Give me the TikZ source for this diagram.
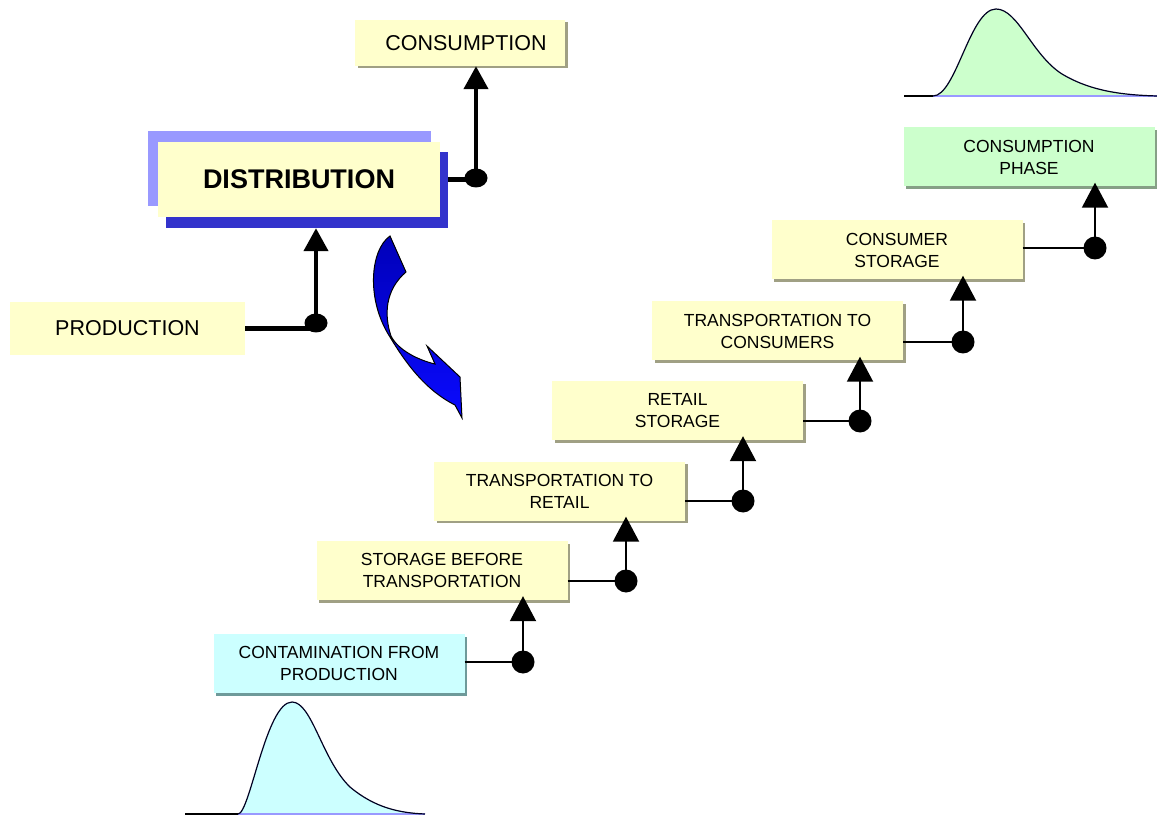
\documentclass[tikz,border=0pt]{standalone}
\usepackage{fontspec}
\setmainfont{Liberation Sans}
\usetikzlibrary{arrows.meta,shadows}

\definecolor{boxyellow}{HTML}{FFFFCC}
\definecolor{boxcyan}{HTML}{CCFFFF}
\definecolor{boxgreen}{HTML}{CCFFCC}
\definecolor{shadeyellow}{HTML}{A0A084}
\definecolor{shadecyan}{HTML}{6E9A9A}
\definecolor{shadegreen}{HTML}{86A086}
\definecolor{distlight}{HTML}{9999FF}
\definecolor{distdark}{HTML}{3333CC}
\definecolor{baseblue}{HTML}{9999FF}
\definecolor{curveink}{HTML}{000022}

\tikzset{
  boxshadow/.style={general shadow={fill=#1, shadow xshift=2.5pt, shadow yshift=-2.5pt}},
  stepbox/.style={fill=boxyellow, inner sep=0pt, align=center,
    minimum width=251pt, minimum height=59pt, text depth=0pt,
    font=\fontsize{17.5}{22}\selectfont, boxshadow=shadeyellow},
  bigbox/.style={fill=boxyellow, inner sep=0pt, font=\fontsize{21.5}{26}\selectfont},
  stepline/.style={line width=2pt},
  steparrow/.style={line width=2pt, -{Triangle[length=25pt,width=26pt]}, shorten >=-4pt},
  stepdot/.style={circle, fill=black, inner sep=0pt, minimum size=23pt},
  mainline/.style={line width=4.3pt},
  mainarrow/.style={line width=4.3pt, -{Triangle[length=23pt,width=24pt]}},
  curveline/.style={line width=1.2pt, draw=curveink},
}

\begin{document}
\begin{tikzpicture}[x=1pt,y=-1pt]
\useasboundingbox (0,0) rectangle (1157,818);

% ---------- distribution curves ----------
\fill[boxcyan] (238,814) .. controls (250,814) and (266,702) .. (292,702)
  .. controls (312,702) and (322,760) .. (350,787)
  .. controls (375,808) and (400,813) .. (425,814) -- cycle;
\draw[line width=1.2pt] (185,814) -- (238,814);
\draw[baseblue, line width=1.2pt] (238,814) -- (425,814);
\draw[curveline] (238,814) .. controls (250,814) and (266,702) .. (292,702)
  .. controls (312,702) and (322,760) .. (350,787)
  .. controls (375,808) and (400,813) .. (425,814);

\fill[boxgreen] (933,96) .. controls (956,96) and (970,9) .. (996,9)
  .. controls (1018,9) and (1032,55) .. (1062,74)
  .. controls (1092,92) and (1125,95) .. (1157,96) -- cycle;
\draw[line width=1.2pt] (904,96) -- (933,96);
\draw[baseblue, line width=1.2pt] (933,96) -- (1157,96);
\draw[curveline] (933,96) .. controls (956,96) and (970,9) .. (996,9)
  .. controls (1018,9) and (1032,55) .. (1062,74)
  .. controls (1092,92) and (1125,95) .. (1157,96);

% ---------- upper overview ----------
\node[fill=distlight, inner sep=0pt, minimum width=283pt, minimum height=75pt] (dlight) at (289.5,168.5) {};
\node[fill=distdark, inner sep=0pt, minimum width=282pt, minimum height=76pt] (ddark) at (307,190) {};
\node[fill=boxyellow, inner sep=0pt, minimum width=282pt, minimum height=75pt,
      font=\fontsize{27}{32}\selectfont\bfseries] (dist) at (299,179.5) {DISTRIBUTION};

\node[bigbox, boxshadow=shadeyellow, minimum width=210pt, minimum height=46pt] (cons) at (460,43) {\hspace*{12pt}CONSUMPTION};
\node[bigbox, minimum width=235pt, minimum height=53pt] (prod) at (127.5,328.5) {PRODUCTION};

\coordinate (dprod) at (316,323);
\coordinate (ddist) at (476,178);
\draw[mainline] (prod.east) -- (dprod |- prod.east);
\draw[mainarrow] (dprod) -- (dprod |- ddark.south);
\draw[mainline] (ddark.east |- dist.east) -- (ddist |- dist.east);
\draw[mainarrow] (ddist) -- (ddist |- cons.south);
\fill (dprod) ellipse [x radius=11.5pt, y radius=9.5pt];
\fill (ddist) ellipse [x radius=11.5pt, y radius=9.5pt];

% ---------- turning arrow ----------
\draw[line width=1pt, top color={rgb,255:red,0;green,0;blue,185}, bottom color={rgb,255:red,10;green,10;blue,255}]
  (390,236) .. controls (370,250) and (366,300) .. (390,337)
  .. controls (405,362) and (425,390) .. (455,405)
  -- (462,418) -- (460,377) -- (427,346) -- (435,364)
  .. controls (418,360) and (398,350) .. (391,336)
  .. controls (384,315) and (385,290) .. (406,272) -- cycle;

% ---------- detailed chain ----------
\node[stepbox, fill=boxcyan, boxshadow=shadecyan] (s1) at (339,663.5) {CONTAMINATION FROM\\PRODUCTION};
\node[stepbox] (s2) at (442,570.5) {STORAGE BEFORE\\TRANSPORTATION};
\node[stepbox] (s3) at (559.5,491) {TRANSPORTATION TO\\RETAIL};
\node[stepbox] (s4) at (677.5,410.5) {RETAIL\\STORAGE};
\node[stepbox] (s5) at (777.5,331) {TRANSPORTATION TO\\CONSUMERS};
\node[stepbox] (s6) at (897,250) {CONSUMER\\STORAGE};
\node[stepbox, fill=boxgreen, boxshadow=shadegreen] (s7) at (1029,157) {CONSUMPTION\\PHASE};

\node[stepdot] (d1) at (523,662) {};
\node[stepdot] (d2) at (626,581) {};
\node[stepdot] (d3) at (743,501) {};
\node[stepdot] (d4) at (860,421) {};
\node[stepdot] (d5) at (963,342) {};
\node[stepdot] (d6) at (1095,248) {};

\foreach \a/\d/\b in {s1/d1/s2, s2/d2/s3, s3/d3/s4, s4/d4/s5, s5/d5/s6, s6/d6/s7} {
  \draw[stepline] (\a.east |- \d) -- (\d.center);
  \draw[steparrow] (\d.center) -- (\d |- \b.south);
}
\end{tikzpicture}
\end{document}
